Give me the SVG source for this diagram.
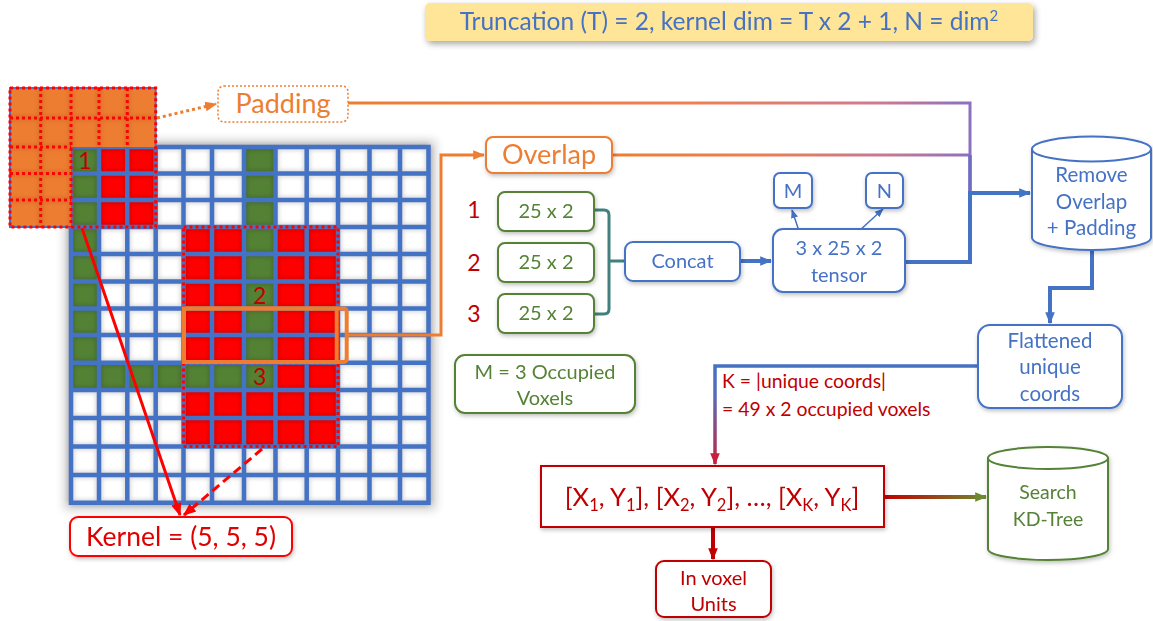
<svg xmlns="http://www.w3.org/2000/svg" width="1153" height="621" viewBox="0 0 1153 621">
<defs>
<filter id="sh" x="-20%" y="-30%" width="140%" height="160%"><feDropShadow dx="1" dy="2" stdDeviation="2" flood-color="#000" flood-opacity="0.25"/></filter>
<filter id="shT" x="-10%" y="-40%" width="120%" height="180%"><feDropShadow dx="2" dy="3" stdDeviation="3" flood-color="#000" flood-opacity="0.35"/></filter>
<filter id="blur" x="-5%" y="-5%" width="110%" height="110%"><feGaussianBlur stdDeviation="2"/></filter>
<filter id="glow" x="-10%" y="-10%" width="120%" height="120%"><feGaussianBlur stdDeviation="5"/></filter>
<marker id="aB" viewBox="0 0 10 10" refX="9" refY="5" markerUnits="userSpaceOnUse" markerWidth="12" markerHeight="12" orient="auto"><path d="M0,1 L10,5 L0,9 z" fill="#4472C4"/></marker>
<marker id="aBs" viewBox="0 0 10 10" refX="9" refY="5" markerUnits="userSpaceOnUse" markerWidth="9" markerHeight="9" orient="auto"><path d="M0,1 L10,5 L0,9 z" fill="#4472C4"/></marker>
<marker id="aR" viewBox="0 0 10 10" refX="9" refY="5" markerUnits="userSpaceOnUse" markerWidth="13" markerHeight="13" orient="auto"><path d="M0,1 L10,5 L0,9 z" fill="#FF0000"/></marker>
<marker id="aDR" viewBox="0 0 10 10" refX="9" refY="5" markerUnits="userSpaceOnUse" markerWidth="12" markerHeight="12" orient="auto"><path d="M0,1 L10,5 L0,9 z" fill="#C00000"/></marker>
<marker id="aRB" viewBox="0 0 10 10" refX="9" refY="5" markerUnits="userSpaceOnUse" markerWidth="12" markerHeight="12" orient="auto"><path d="M0,1 L10,5 L0,9 z" fill="#C8203C"/></marker>
<marker id="aO" viewBox="0 0 10 10" refX="9" refY="5" markerUnits="userSpaceOnUse" markerWidth="12" markerHeight="12" orient="auto"><path d="M0,1 L10,5 L0,9 z" fill="#ED7D31"/></marker>
<marker id="aG" viewBox="0 0 10 10" refX="9" refY="5" markerUnits="userSpaceOnUse" markerWidth="12" markerHeight="12" orient="auto"><path d="M0,1 L10,5 L0,9 z" fill="#6E8A30"/></marker>
<linearGradient id="gPad" gradientUnits="userSpaceOnUse" x1="348" y1="0" x2="970" y2="0"><stop offset="0" stop-color="#ED7D31"/><stop offset="0.55" stop-color="#EF7F55"/><stop offset="0.85" stop-color="#D07A90"/><stop offset="1" stop-color="#8C70C0"/></linearGradient>
<linearGradient id="gOv" gradientUnits="userSpaceOnUse" x1="612" y1="0" x2="970" y2="0"><stop offset="0" stop-color="#ED7D31"/><stop offset="0.4" stop-color="#EE7E50"/><stop offset="0.8" stop-color="#C07898"/><stop offset="1" stop-color="#8C70C0"/></linearGradient>
<linearGradient id="gFl" gradientUnits="userSpaceOnUse" x1="0" y1="366" x2="0" y2="466"><stop offset="0" stop-color="#4472C4"/><stop offset="0.3" stop-color="#5A6AB8"/><stop offset="1" stop-color="#C8203C"/></linearGradient>
<linearGradient id="gKD" gradientUnits="userSpaceOnUse" x1="884" y1="0" x2="986" y2="0"><stop offset="0" stop-color="#C00000"/><stop offset="1" stop-color="#6E8A30"/></linearGradient>
<path id="gl" d="M71,147V502.7M99,147V502.7M127.3,147V502.7M155.7,147V502.7M183.5,147V502.7M212,147V502.7M244,147V502.7M275.5,147V502.7M306.7,147V502.7M338,147V502.7M369.5,147V502.7M400,147V502.7M428.5,147V502.7M71,147H428.5M71,173.5H428.5M71,200H428.5M71,227H428.5M71,254H428.5M71,281.5H428.5M71,308.5H428.5M71,335H428.5M71,362.7H428.5M71,390H428.5M71,418H428.5M71,446.5H428.5M71,475H428.5M71,502.7H428.5"/>
<path id="pl" d="M40.7,88V227M71,88V227M99,88V147M127.3,88V147M10,118H155.7M10,147H71M10,173.5H71M10,200H71"/>
</defs>
<style>
text{font-family:Lato,"Open Sans","Liberation Sans",sans-serif;text-anchor:middle}
.bl{fill:#4472C4}
.gr{fill:#548235}
.rd{fill:#C00000}
.or{fill:#ED7D31}
.box{fill:#fff;stroke-width:2}
.bB{stroke:#4472C4}
.bG{stroke:#548235}
.bR{stroke:#C00000}
.dot{fill:none;stroke:#FF0000;stroke-width:3;stroke-dasharray:3 3}
.con{fill:none}
</style>

<g id="title" filter="url(#shT)">
<rect x="425" y="3" width="608" height="38" rx="5" fill="#FFE597"/>
<text x="729" y="30" font-size="24.5" class="bl">Truncation (T) = 2, kernel dim = T x 2 + 1, N = dim<tspan dy="-9" font-size="15">2</tspan></text>
</g>

<g id="grid">
<rect x="64" y="140" width="372" height="370" fill="#000" opacity="0.18" filter="url(#glow)"/>
<rect x="71" y="147" width="357.5" height="355.7" fill="#fff"/>
<g fill="#548235">
<rect x="71" y="147" width="28" height="243"/>
<rect x="71" y="362.7" width="204.5" height="27.3"/>
<rect x="244" y="147" width="31.5" height="243"/>
</g>
<g fill="#FF0000">
<rect x="99" y="147" width="56.7" height="80"/>
<rect x="183.5" y="227" width="60.5" height="135.7"/>
<rect x="275.5" y="227" width="62.5" height="163"/>
<rect x="183.5" y="390" width="154.5" height="56.5"/>
</g>
<use href="#gl" fill="none" stroke="#000" stroke-width="7" opacity="0.16" filter="url(#blur)"/>
<use href="#gl" fill="none" stroke="#4472C4" stroke-width="4.5" stroke-linecap="square"/>
</g>

<g id="padding-cells">
<rect x="10" y="88" width="145.7" height="59" fill="#ED7D31"/>
<rect x="10" y="147" width="61" height="80" fill="#ED7D31"/>
<use href="#pl" fill="none" stroke="#8A3A00" stroke-width="5" opacity="0.2" filter="url(#blur)"/>
<path d="M71,227H10V88H155.7V147" fill="none" stroke="#4472C4" stroke-width="2"/>
<rect x="10" y="88" width="145.7" height="139" class="dot"/>
<use href="#pl" class="dot"/>
<text x="85" y="169" font-size="23" class="rd">1</text>
</g>

<g id="kernel2">
<rect x="183.5" y="227" width="154.5" height="135.7" class="dot"/>
<text x="259.7" y="304" font-size="23" class="rd">2</text>
</g>
<g id="kernel3">
<rect x="183.5" y="308.5" width="154.5" height="138" class="dot"/>
<text x="259.7" y="385" font-size="23" class="rd">3</text>
</g>
<g id="overlap-region" fill="none" stroke="#ED7D31" stroke-width="4">
<rect x="184" y="308.5" width="152.7" height="53.5"/>
<rect x="184" y="308.5" width="162.7" height="53.5" rx="3"/>
</g>

<g id="connectors">
<path d="M157,118 L216,104" stroke="#ED7D31" stroke-width="3" stroke-dasharray="3 3" class="con" marker-end="url(#aO)"/>
<path d="M346.7,335 H441 V155 H484" stroke="#ED7D31" stroke-width="3" class="con" marker-end="url(#aO)"/>
<path d="M82,228 L180,515" stroke="#FF0000" stroke-width="3" class="con" marker-end="url(#aR)"/>
<path d="M262,449 L184,515" stroke="#FF0000" stroke-width="3" stroke-dasharray="9 5" class="con" marker-end="url(#aR)"/>
<path d="M348,103 H970 V193" stroke="url(#gPad)" stroke-width="3" class="con"/>
<path d="M612,155 H970" stroke="url(#gOv)" stroke-width="3" class="con"/>
<path d="M970,155 V262" stroke="#6F6FC2" stroke-width="3.5" class="con"/>
<path d="M905,262 H970 V193 H1030" stroke="#4472C4" stroke-width="4" class="con" marker-end="url(#aB)"/>
<path d="M594,210 H604 Q609,210 609,215 V309 Q609,314 604,314 H594 M609,261 H625" stroke="#41807D" stroke-width="3" class="con"/>
<path d="M740,261 H771" stroke="#4472C4" stroke-width="4" class="con" marker-end="url(#aB)"/>
<path d="M802,240 L792,210" stroke="#4472C4" stroke-width="1.5" class="con" marker-end="url(#aBs)"/>
<path d="M847,242 L883,209" stroke="#4472C4" stroke-width="1.5" class="con" marker-end="url(#aBs)"/>
<path d="M1092,250 V288 H1050 V323" stroke="#4472C4" stroke-width="4" class="con" marker-end="url(#aB)"/>
<path d="M978,366 H715 V464" stroke="url(#gFl)" stroke-width="3.5" class="con" marker-end="url(#aRB)"/>
<path d="M713,527 V559" stroke="#C00000" stroke-width="4" class="con" marker-end="url(#aDR)"/>
<path d="M884,497 H986" stroke="url(#gKD)" stroke-width="4" class="con" marker-end="url(#aG)"/>
</g>

<g id="kernel-label" filter="url(#sh)">
<rect x="70" y="517" width="222" height="39" rx="8" class="box" stroke="#FF0000"/>
<text x="181" y="546" font-size="26.5" fill="#E00000">Kernel = (5, 5, 5)</text>
</g>
<g id="padding">
<rect x="218" y="86" width="130" height="36" rx="6" fill="#fff" stroke="#ED7D31" stroke-width="1.5" stroke-dasharray="2 2"/>
<text x="283" y="113" font-size="27" class="or">Padding</text>
</g>
<g id="overlap" filter="url(#sh)">
<rect x="486" y="137" width="126" height="36" rx="7" class="box" stroke="#ED7D31"/>
<text x="549" y="164" font-size="27" class="or">Overlap</text>
</g>
<g id="labels123" font-size="23">
<text x="474" y="218" class="rd">1</text>
<text x="474" y="271" class="rd">2</text>
<text x="474" y="322" class="rd">3</text>
</g>
<g id="b1" filter="url(#sh)"><rect x="498" y="192" width="96" height="39" rx="7" class="box bG"/><text x="546" y="218" font-size="20" class="gr">25 x 2</text></g>
<g id="b2" filter="url(#sh)"><rect x="498" y="243" width="96" height="39" rx="7" class="box bG"/><text x="546" y="269" font-size="20" class="gr">25 x 2</text></g>
<g id="b3" filter="url(#sh)"><rect x="498" y="294" width="96" height="39" rx="7" class="box bG"/><text x="546" y="320" font-size="20" class="gr">25 x 2</text></g>
<g id="concat" filter="url(#sh)"><rect x="625" y="242" width="115" height="39" rx="8" class="box bB"/><text x="682.5" y="268" font-size="20" class="bl">Concat</text></g>
<g id="tensor" filter="url(#sh)"><rect x="773" y="229" width="132" height="63" rx="10" class="box bB"/><text x="839" y="255" font-size="20" class="bl">3 x 25 x 2</text><text x="839" y="282" font-size="20" class="bl">tensor</text></g>
<g id="M" filter="url(#sh)"><rect x="774" y="173" width="38" height="35" rx="6" class="box bB"/><text x="793" y="198" font-size="20" class="bl">M</text></g>
<g id="N" filter="url(#sh)"><rect x="866" y="173" width="37" height="35" rx="6" class="box bB"/><text x="884.5" y="198" font-size="20" class="bl">N</text></g>
<g id="mvox" filter="url(#sh)"><rect x="455" y="355" width="180" height="58" rx="10" class="box bG"/><text x="545" y="379" font-size="20" class="gr">M = 3 Occupied</text><text x="545" y="405" font-size="20" class="gr">Voxels</text></g>
<g id="remove" filter="url(#sh)">
<path d="M1032,149 A59.5,12.5 0 0 1 1151,149 V237.5 A59.5,12.5 0 0 1 1032,237.5 Z" class="box bB"/>
<path d="M1032,149 A59.5,12.5 0 0 0 1151,149" fill="none" stroke="#4472C4" stroke-width="2"/>
<text x="1091.5" y="182" font-size="20.5" class="bl">Remove</text><text x="1091.5" y="209" font-size="20.5" class="bl">Overlap</text><text x="1091.5" y="235" font-size="20.5" class="bl">+ Padding</text>
</g>
<g id="flat" filter="url(#sh)"><rect x="978" y="325" width="144" height="83" rx="12" class="box bB"/><text x="1050" y="348" font-size="20.5" class="bl">Flattened</text><text x="1050" y="374" font-size="20.5" class="bl">unique</text><text x="1050" y="401" font-size="20.5" class="bl">coords</text></g>
<g id="ktext" font-size="19.4" class="rd"><text x="722" y="388" style="text-anchor:start">K = |unique coords|</text><text x="722" y="416" style="text-anchor:start">= 49 x 2 occupied voxels</text></g>
<g id="coords" filter="url(#sh)"><rect x="541" y="466" width="343" height="61" class="box bR"/>
<text x="712" y="506" font-size="25.5" class="rd">[X<tspan font-size="16.5" dy="5">1</tspan><tspan dy="-5">, Y</tspan><tspan font-size="16.5" dy="5">1</tspan><tspan dy="-5">], [X</tspan><tspan font-size="16.5" dy="5">2</tspan><tspan dy="-5">, Y</tspan><tspan font-size="16.5" dy="5">2</tspan><tspan dy="-5">], …, [X</tspan><tspan font-size="16.5" dy="5">K</tspan><tspan dy="-5">, Y</tspan><tspan font-size="16.5" dy="5">K</tspan><tspan dy="-5">]</tspan></text></g>
<g id="voxunits" filter="url(#sh)"><rect x="656" y="561" width="115" height="56" rx="8" class="box bR"/><text x="713.5" y="585" font-size="20" class="rd">In voxel</text><text x="713.5" y="611" font-size="20" class="rd">Units</text></g>
<g id="kdtree" filter="url(#sh)">
<path d="M988,458 A60,11 0 0 1 1108,458 V549 A60,11 0 0 1 988,549 Z" class="box bG"/>
<path d="M988,458 A60,11 0 0 0 1108,458" fill="none" stroke="#548235" stroke-width="2"/>
<text x="1048" y="499" font-size="19.5" class="gr">Search</text><text x="1048" y="526" font-size="19.5" class="gr">KD-Tree</text>
</g>
</svg>
